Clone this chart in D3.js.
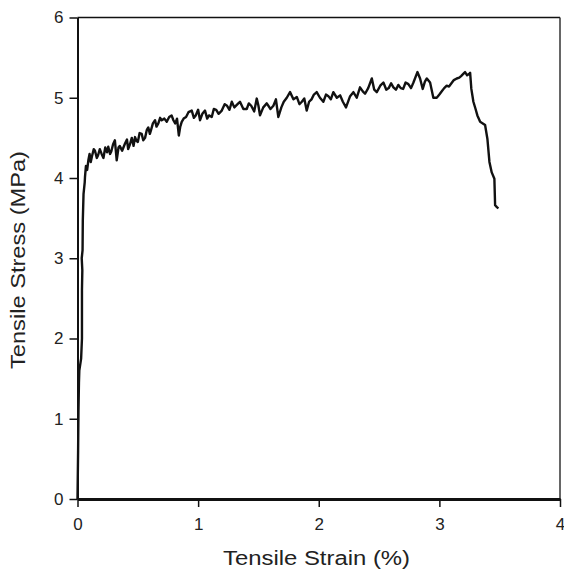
<!DOCTYPE html>
<html>
<head>
<meta charset="utf-8">
<script src="https://cdn.jsdelivr.net/npm/d3@7"></script>
<style>
  html, body { margin: 0; padding: 0; background: #fff; }
  svg { display: block; font-family: "Liberation Sans", Arial, sans-serif; }
</style>
</head>
<body>
<svg id="chart" width="564" height="571"></svg>
<script>
// curva tensao x deformacao
const strain = [
  0, 0.005, 0.008, 0.012, 0.015, 0.03, 0.037, 0.037, 0.04, 0.035, 0.042, 0.044, 0.05, 0.06, 0.062,
  0.07, 0.08, 0.09, 0.1, 0.11, 0.12, 0.135, 0.145, 0.16, 0.17, 0.185, 0.2, 0.215, 0.23, 0.245, 0.255,
  0.27, 0.28, 0.295, 0.31, 0.325, 0.34, 0.35, 0.37, 0.394, 0.41, 0.42, 0.435,
  0.45, 0.465, 0.477, 0.49, 0.5, 0.515, 0.532, 0.545, 0.56, 0.575, 0.587, 0.6, 0.61, 0.625, 0.643, 0.655,
  0.67, 0.685, 0.698, 0.72, 0.74, 0.76, 0.78, 0.795, 0.81, 0.825, 0.84, 0.852, 0.864,
  0.88, 0.9, 0.92, 0.947, 0.965, 0.98, 1.0, 1.016, 1.035, 1.057, 1.075, 1.09, 1.113, 1.13, 1.15, 1.17,
  1.196, 1.22, 1.24, 1.26, 1.279, 1.3, 1.333, 1.347, 1.375,
  1.403, 1.42, 1.44, 1.465, 1.486, 1.5, 1.513, 1.54, 1.569, 1.6, 1.624, 1.645, 1.665, 1.69, 1.71, 1.735,
  1.762, 1.79, 1.818, 1.84, 1.86, 1.88, 1.9, 1.92, 1.94, 1.96, 1.983,
  2.01, 2.038, 2.06, 2.08, 2.1, 2.121, 2.15, 2.177, 2.2, 2.226, 2.26, 2.287, 2.315, 2.342, 2.365, 2.384,
  2.41, 2.44, 2.46, 2.481, 2.51, 2.536, 2.56, 2.58, 2.6, 2.619,
  2.64, 2.66, 2.68, 2.70, 2.72, 2.743, 2.765, 2.785, 2.818, 2.84, 2.862, 2.88, 2.896, 2.923, 2.95, 2.978,
  3.0, 3.02, 3.04, 3.061, 3.08, 3.10, 3.12, 3.144, 3.165, 3.18, 3.2, 3.213, 3.23, 3.249, 3.255,
  3.265, 3.282, 3.3, 3.315, 3.338, 3.36, 3.379, 3.398, 3.415, 3.434, 3.456,
  3.462, 3.475, 3.489
];
const stress = [
  0, 0.6, 1.1, 1.45, 1.6, 1.75, 2.0, 2.6, 2.85, 3.0, 3.1, 3.47, 3.8, 3.95, 4.01,
  4.15, 4.1, 4.22, 4.3, 4.2, 4.27, 4.36, 4.34, 4.25, 4.28, 4.36, 4.3, 4.25, 4.38, 4.32, 4.39,
  4.3, 4.33, 4.42, 4.47, 4.22, 4.38, 4.4, 4.34, 4.43, 4.48, 4.36, 4.42,
  4.5, 4.4, 4.51, 4.46, 4.45, 4.56, 4.55, 4.47, 4.5, 4.6, 4.63, 4.55, 4.6, 4.68, 4.72, 4.64,
  4.68, 4.75, 4.72, 4.74, 4.7, 4.76, 4.78, 4.72, 4.68, 4.74, 4.53, 4.64, 4.70,
  4.74, 4.76, 4.82, 4.84, 4.75, 4.78, 4.85, 4.72, 4.8, 4.84, 4.74, 4.78, 4.76, 4.86, 4.85, 4.8,
  4.84, 4.92, 4.9, 4.85, 4.95, 4.88, 4.93, 4.95, 4.86,
  4.86, 4.93, 4.9, 4.83, 4.99, 4.9, 4.78, 4.88, 4.93, 4.86, 4.9, 4.98, 4.76, 4.88, 4.95, 5.0,
  5.07, 4.98, 5.01, 4.92, 4.95, 4.99, 4.84, 4.95, 4.98, 5.04, 5.07,
  5.0, 4.95, 5.04, 5.02, 4.98, 5.07, 5.0, 5.03, 4.95, 4.88, 5.02, 5.07, 5.0, 5.13, 5.08, 5.05,
  5.12, 5.24, 5.1, 5.07, 5.15, 5.19, 5.1, 5.12, 5.18, 5.13,
  5.1, 5.16, 5.12, 5.11, 5.19, 5.17, 5.12, 5.19, 5.32, 5.24, 5.11, 5.2, 5.24, 5.19, 5.0, 5.0,
  5.04, 5.08, 5.12, 5.15, 5.14, 5.18, 5.22, 5.24, 5.25, 5.27, 5.3, 5.32, 5.28, 5.30, 5.31,
  5.11, 4.95, 4.86, 4.78, 4.70, 4.68, 4.66, 4.49, 4.20, 4.07, 3.99,
  3.66, 3.64, 3.62
];
const xTicks = [0, 1, 2, 3, 4];
const yTicks = [0, 1, 2, 3, 4, 5, 6];

const PLOT = { left: 77.5, right: 560, top: 17.5, bottom: 499 };

const svg = d3.select("#chart");
const x = d3.scaleLinear().domain([0, 4]).range([PLOT.left, PLOT.right]);
const y = d3.scaleLinear().domain([0, 6]).range([PLOT.bottom, PLOT.top]);

// moldura: topo e direita finos
svg.append("line").attr("x1", PLOT.left).attr("x2", PLOT.right).attr("y1", PLOT.top).attr("y2", PLOT.top)
  .attr("stroke", "#111").attr("stroke-width", 1.5);
svg.append("line").attr("x1", PLOT.right).attr("x2", PLOT.right).attr("y1", PLOT.top).attr("y2", PLOT.bottom)
  .attr("stroke", "#333").attr("stroke-width", 1.5);

const line = d3.line().x((_d, i) => x(strain[i])).y((d) => y(d));
svg.append("path")
  .datum(stress)
  .attr("d", line)
  .attr("fill", "none")
  .attr("stroke", "#111")
  .attr("stroke-width", 2.4)
  .attr("stroke-linejoin", "round");

const xAxis = svg.append("g")
  .attr("transform", `translate(0,${PLOT.bottom})`)
  .call(d3.axisBottom(x).tickValues(xTicks).tickFormat(d3.format("d")).tickSize(8).tickSizeOuter(0).tickPadding(11));
xAxis.select(".domain").attr("stroke", "#111").attr("stroke-width", 3);
xAxis.selectAll(".tick line").attr("stroke", "#111").attr("stroke-width", 1.5);
xAxis.selectAll("text").attr("font-size", 17).attr("fill", "#222").attr("font-family", "Liberation Sans, Arial, sans-serif");

const yAxis = svg.append("g")
  .attr("transform", `translate(${PLOT.left},0)`)
  .call(d3.axisLeft(y).tickValues(yTicks).tickFormat(d3.format("d")).tickSize(8).tickSizeOuter(0).tickPadding(6));
yAxis.select(".domain").attr("stroke", "#111").attr("stroke-width", 2);
yAxis.selectAll(".tick line").attr("stroke", "#111").attr("stroke-width", 1.5);
yAxis.selectAll("text").attr("font-size", 17).attr("fill", "#222").attr("font-family", "Liberation Sans, Arial, sans-serif");

svg.append("text")
  .attr("x", 316.5)
  .attr("y", 565)
  .attr("text-anchor", "middle")
  .attr("font-size", 20)
  .attr("fill", "#222")
  .attr("textLength", 187)
  .attr("lengthAdjust", "spacingAndGlyphs")
  .text("Tensile Strain (%)");

svg.append("text")
  .attr("transform", `translate(25,260) rotate(-90)`)
  .attr("text-anchor", "middle")
  .attr("font-size", 20)
  .attr("fill", "#222")
  .attr("textLength", 218)
  .attr("lengthAdjust", "spacingAndGlyphs")
  .text("Tensile Stress (MPa)");
</script>
</body>
</html>
